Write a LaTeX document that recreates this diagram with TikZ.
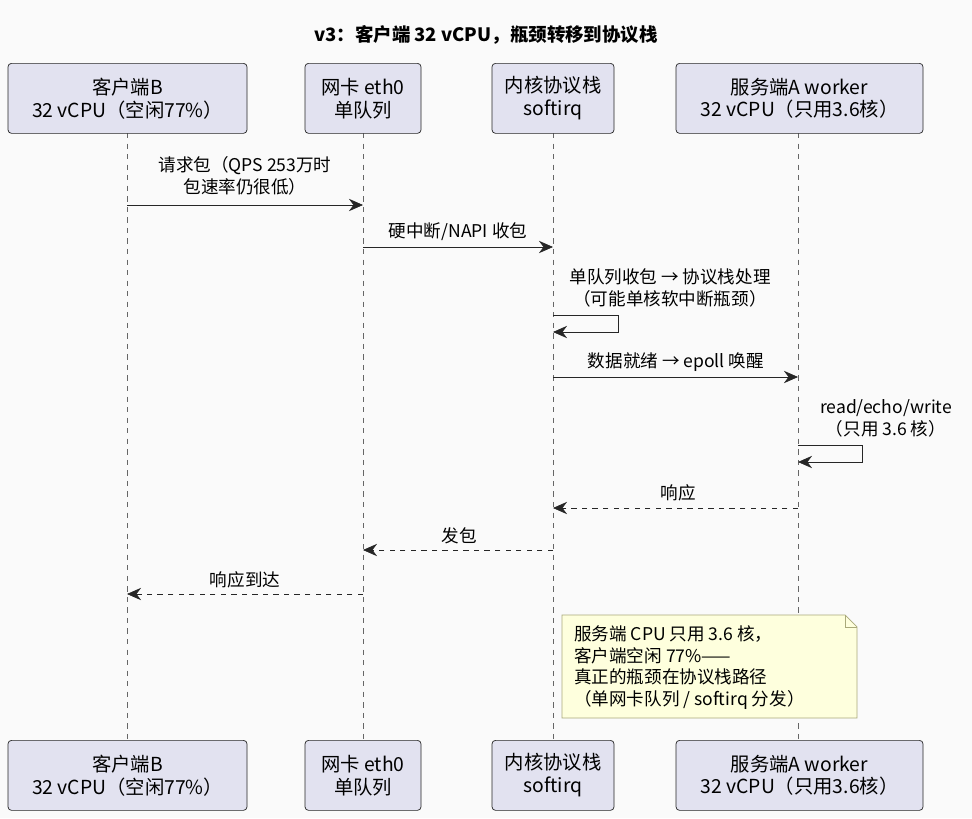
\documentclass[tikz,border=0pt]{standalone}
\usepackage{fontspec}
\setmainfont{Noto Sans CJK SC}
\usetikzlibrary{arrows.meta}
\definecolor{partfill}{HTML}{E2E2F0}
\definecolor{notefill}{HTML}{FEFFDD}
\definecolor{noteline}{HTML}{A9A97A}
\tikzset{
  party/.style={draw=black!85, fill=partfill, rounded corners=2pt, align=center,
    font=\fontsize{11}{13}\selectfont, inner sep=0pt},
  msg/.style={-{Stealth[length=8pt,width=7pt]}, black!85},
  reply/.style={msg, dashed},
  lbl/.style={align=center, font=\fontsize{10}{12.5}\selectfont},
  life/.style={dashed, black!60, thin}
}
\begin{document}
\begin{tikzpicture}[x=0.02cm,y=-0.02cm]
  % Hintergrund
  \fill[black!2] (0,0) rectangle (972,818);
  \node[font=\fontsize{10.5}{12}\selectfont\bfseries] (title) at (486,35) {v3：客户端 32 vCPU，瓶颈转移到协议栈};

  % Lebenslinien
  \foreach \nm/\xx in {cli/127,nic/363,ker/553,srv/798}{
    \coordinate (\nm t) at (\xx,133);
    \coordinate (\nm b) at (\xx,740);
    \draw[life] (\nm t) -- (\nm b);
  }

  % Teilnehmer oben und unten
  \foreach \y/\s in {63/u,740/d}{
    \node[party, minimum width=239*0.02cm, minimum height=70*0.02cm, anchor=north] (cli\s) at (127.5,\y) {客户端B\\32 vCPU（空闲77\%）};
    \node[party, minimum width=116*0.02cm, minimum height=70*0.02cm, anchor=north] (nic\s) at (363,\y) {网卡 eth0\\单队列};
    \node[party, minimum width=122*0.02cm, minimum height=70*0.02cm, anchor=north] (ker\s) at (553,\y) {内核协议栈\\softirq};
    \node[party, minimum width=247*0.02cm, minimum height=70*0.02cm, anchor=north] (srv\s) at (799.5,\y) {服务端A worker\\32 vCPU（只用3.6核）};
  }

  % Nachrichten
  \coordinate (m1a) at (127,205); \coordinate (m1b) at (363,205);
  \draw[msg] (m1a) -- (m1b);
  \node[lbl] (l1) at (245,176) {请求包（QPS 253万时\\包速率仍很低）};

  \coordinate (m2a) at (363,247); \coordinate (m2b) at (553,247);
  \draw[msg] (m2a) -- (m2b);
  \node[lbl] (l2) at (458,232) {硬中断/NAPI 收包};

  \coordinate (s1a) at (553,315); \coordinate (s1b) at (553,332);
  \draw[msg] (s1a) -- ++(65,0) |- (s1b);
  \node[lbl] (l3) at (670,288) {单队列收包 → 协议栈处理\\（可能单核软中断瓶颈）};

  \coordinate (m4a) at (553,377); \coordinate (m4b) at (798,377);
  \draw[msg] (m4a) -- (m4b);
  \node[lbl] (l4) at (676,362) {数据就绪 → epoll 唤醒};

  \coordinate (s2a) at (798,445); \coordinate (s2b) at (798,462);
  \draw[msg] (s2a) -- ++(64,0) |- (s2b);
  \node[lbl] (l5) at (886,418) {read/echo/write\\（只用 3.6 核）};

  \coordinate (m6a) at (798,508); \coordinate (m6b) at (553,508);
  \draw[reply] (m6a) -- (m6b);
  \node[lbl] (l6) at (678,493) {响应};

  \coordinate (m7a) at (553,550); \coordinate (m7b) at (363,550);
  \draw[reply] (m7a) -- (m7b);
  \node[lbl] (l7) at (459,536) {发包};

  \coordinate (m8a) at (363,594); \coordinate (m8b) at (127,594);
  \draw[reply] (m8a) -- (m8b);
  \node[lbl] (l8) at (245,580) {响应到达};

  % Notiz
  \draw[draw=noteline, fill=notefill] (562,615) -- (845,615) -- (857,627) -- (857,718) -- (562,718) -- cycle;
  \draw[draw=noteline] (845,615) |- (857,627);
  \node[lbl, align=left, anchor=north west] (note) at (568,619)
    {服务端 CPU 只用 3.6 核，\\客户端空闲 77\%——\\真正的瓶颈在协议栈路径\\（单网卡队列 / softirq 分发）};
\end{tikzpicture}
\end{document}
